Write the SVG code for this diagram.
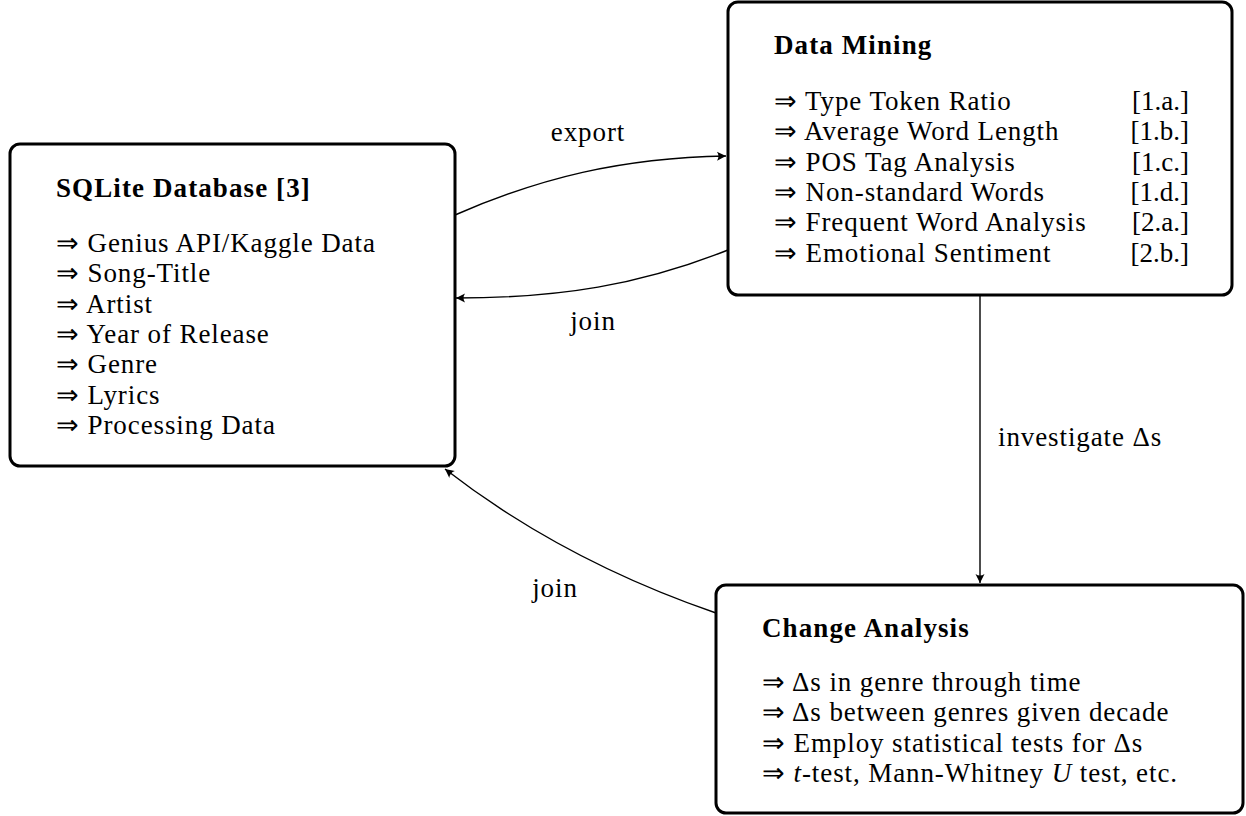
<svg xmlns="http://www.w3.org/2000/svg" width="1246" height="816" viewBox="0 0 1246 816">
<defs>
<style>
text{font-family:"Liberation Serif","Times New Roman",serif;font-size:27px;letter-spacing:0.9px;fill:#000}
.t{font-weight:bold;letter-spacing:1.1px}
.box{fill:#fff;stroke:#000;stroke-width:3}
.c{fill:none;stroke:#000;stroke-width:1.4}
.r{text-anchor:end;letter-spacing:0}
.m{text-anchor:middle}
</style>
<marker id="ar" markerWidth="12" markerHeight="12" refX="0" refY="0" viewBox="-10 -6 12 12" orient="auto" markerUnits="userSpaceOnUse">
<path d="M0,0 L-9,-4.5 Q-6,0 -9,4.5 Z" fill="#000"/>
</marker>
</defs>
<g id="connectors">
<path class="c" d="M455,215 C540,178 620,158 726,156" marker-end="url(#ar)"/>
<path class="c" d="M728,250 C640,285 560,298 456,298" marker-end="url(#ar)"/>
<path class="c" d="M980,295 L980,583" marker-end="url(#ar)"/>
<path class="c" d="M716,613 C620,580 530,535 445,469" marker-end="url(#ar)"/>
<text class="m" x="588" y="141">export</text>
<text class="m" x="593" y="330">join</text>
<text x="998" y="446">investigate Δs</text>
<text class="m" x="555" y="597">join</text>
</g>
<g id="sqlite">
<rect class="box" x="10" y="144" width="445" height="322" rx="10"/>
<text class="t" x="56" y="197">SQLite Database [3]</text>
<text x="56" y="252">⇒ Genius API/Kaggle Data</text>
<text x="56" y="282">⇒ Song-Title</text>
<text x="56" y="313">⇒ Artist</text>
<text x="56" y="343">⇒ Year of Release</text>
<text x="56" y="373">⇒ Genre</text>
<text x="56" y="404">⇒ Lyrics</text>
<text x="56" y="434">⇒ Processing Data</text>
</g>
<g id="datamining">
<rect class="box" x="728" y="2" width="504" height="293" rx="10"/>
<text class="t" x="774" y="54">Data Mining</text>
<text x="774" y="110">⇒ Type Token Ratio</text>
<text x="774" y="140">⇒ Average Word Length</text>
<text x="774" y="171">⇒ POS Tag Analysis</text>
<text x="774" y="201">⇒ Non-standard Words</text>
<text x="774" y="231">⇒ Frequent Word Analysis</text>
<text x="774" y="262">⇒ Emotional Sentiment</text>
<text class="r" x="1189" y="110">[1.a.]</text>
<text class="r" x="1189" y="140">[1.b.]</text>
<text class="r" x="1189" y="171">[1.c.]</text>
<text class="r" x="1189" y="201">[1.d.]</text>
<text class="r" x="1189" y="231">[2.a.]</text>
<text class="r" x="1189" y="262">[2.b.]</text>
</g>
<g id="change">
<rect class="box" x="716" y="585" width="527" height="228" rx="10"/>
<text class="t" x="762" y="637">Change Analysis</text>
<text x="762" y="691">⇒ Δs in genre through time</text>
<text x="762" y="721">⇒ Δs between genres given decade</text>
<text x="762" y="752">⇒ Employ statistical tests for Δs</text>
<text x="762" y="782">⇒ <tspan font-style="italic">t</tspan>-test, Mann-Whitney <tspan font-style="italic">U</tspan> test, etc.</text>
</g>
</svg>
